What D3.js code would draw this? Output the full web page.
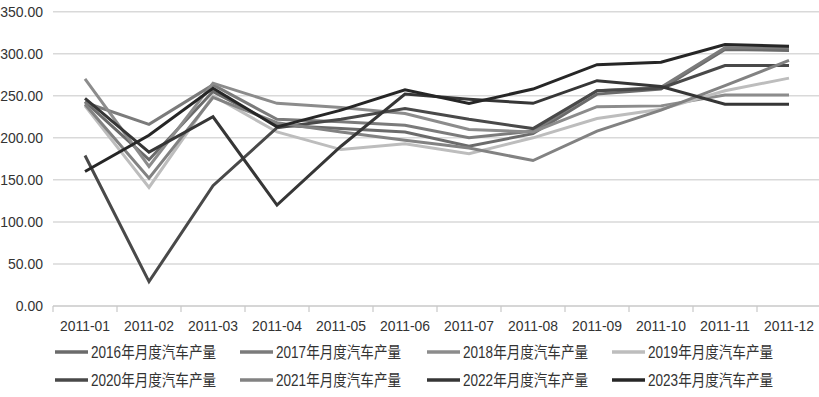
<!DOCTYPE html>
<html><head><meta charset="utf-8">
<script src="https://cdn.jsdelivr.net/npm/d3@7"></script>
<style>html,body{margin:0;padding:0;background:#fff;}svg{display:block;}</style>
</head><body><svg id="c" width="819" height="397"></svg>
<script>
const categories = ["2011-01","2011-02","2011-03","2011-04","2011-05","2011-06","2011-07","2011-08","2011-09","2011-10","2011-11","2011-12"];
const yTicks = [0,50,100,150,200,250,300,350];
const seriesNames = ["2016年月度汽车产量","2017年月度汽车产量","2018年月度汽车产量","2019年月度汽车产量","2020年月度汽车产量","2021年月度汽车产量","2022年月度汽车产量","2023年月度汽车产量"];
const s2016 = [243,174,255,215,211,207,190,205,252,258,305,304];
const s2017 = [242,216,263,222,219,215,200,208,256,260,307,307];
const s2018 = [270,166,265,241,236,229,210,207,237,238,251,251];
const s2019 = [238,141,250,207,186,193,181,200,223,234,256,271];
const s2020 = [179,29,143,212,222,235,222,211,256,259,286,286];
const s2021 = [240,152,248,218,207,197,188,173,208,233,262,292];
const s2022 = [247,183,225,120,190,252,246,241,268,261,240,240];
const s2023 = [160,203,259,213,233,257,241,258,287,290,311,309];
const seriesValues = [s2016,s2017,s2018,s2019,s2020,s2021,s2022,s2023];
const colors = ["#6b6b6b","#7b7b7b","#8c8c8c","#bdbdbd","#494949","#828282","#363636","#262626"];

const svg = d3.select("#c");
const x = d3.scaleBand().domain(categories).range([53, 821]).padding(0);
const y = d3.scaleLinear().domain([0, 350]).range([306, 11.7]);

// gridlines
svg.append("g").selectAll("line").data(yTicks.filter(d => d > 0)).join("line")
  .attr("x1", 53).attr("x2", 819)
  .attr("y1", d => y(d)).attr("y2", d => y(d))
  .attr("stroke", "#d9d9d9").attr("stroke-width", 1.5);

// x axis
const xAxis = svg.append("g").attr("transform", `translate(0,${y(0)})`)
  .call(d3.axisBottom(x).tickSize(0).tickPadding(0));
xAxis.select(".domain").attr("stroke", "#c8c8c8").attr("stroke-width", 1.5).attr("d", "M53,0H819");
xAxis.selectAll(".tick text").remove();
svg.append("g").selectAll("line").data(categories).join("line")
  .attr("x1", d => x(d)).attr("x2", d => x(d))
  .attr("y1", y(0)).attr("y2", y(0) + 6)
  .attr("stroke", "#c8c8c8").attr("stroke-width", 1.2);
svg.append("g").selectAll("text").data(categories).join("text")
  .attr("x", d => x(d) + x.bandwidth() / 2).attr("y", 331)
  .attr("text-anchor", "middle")
  .attr("font-family", "Liberation Sans, Arial, sans-serif").attr("font-size", 14)
  .attr("textLength", 50).attr("lengthAdjust", "spacingAndGlyphs")
  .attr("fill", "#333").text(d => d);

// y axis labels
svg.append("g").selectAll("text").data(yTicks).join("text")
  .attr("x", 43).attr("y", d => y(d) + 5)
  .attr("text-anchor", "end")
  .attr("font-family", "Liberation Sans, Arial, sans-serif").attr("font-size", 14)
  .attr("fill", "#333").text(d => d3.format(".2f")(d));

// lines
const line = d3.line().x((d, i) => x(categories[i]) + x.bandwidth() / 2).y(d => y(d));
svg.append("g").selectAll("path").data(seriesValues).join("path")
  .attr("d", d => line(d))
  .attr("fill", "none")
  .attr("stroke", (d, i) => colors[i])
  .attr("stroke-width", 3)
  .attr("stroke-linejoin", "miter");

// legend
const legX = [55, 240, 427, 612];
const legY = [352, 380];
const leg = svg.append("g").selectAll("g").data(seriesNames).join("g")
  .attr("transform", (d, i) => `translate(${legX[i % 4]},${legY[Math.floor(i / 4)]})`);
leg.append("line").attr("x1", 0).attr("x2", 33).attr("y1", 0).attr("y2", 0)
  .attr("stroke", (d, i) => colors[i]).attr("stroke-width", 3.5);
leg.append("text").attr("x", 36).attr("y", 6)
  .attr("font-family", "Liberation Sans, Noto Sans CJK SC, sans-serif").attr("font-size", 16)
  .attr("textLength", 125).attr("lengthAdjust", "spacingAndGlyphs")
  .attr("fill", "#333").text(d => d);
</script></body></html>
